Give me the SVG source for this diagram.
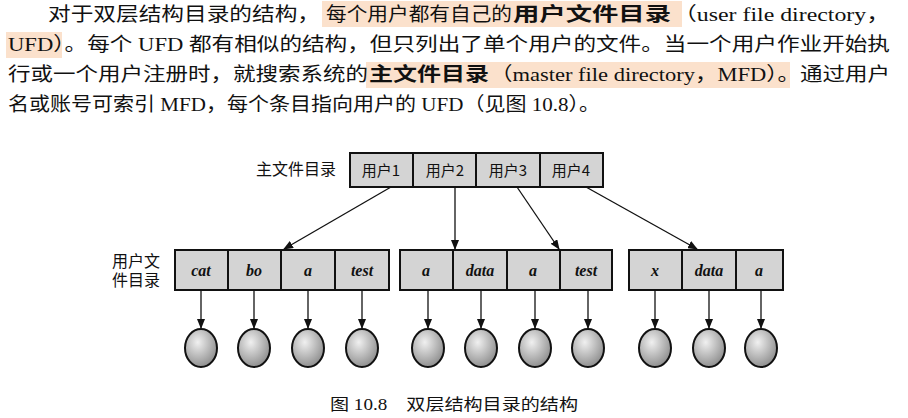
<svg xmlns="http://www.w3.org/2000/svg" width="908" height="418" viewBox="0 0 908 418">
<style>
.t{font-family:"Liberation Serif","Noto Sans CJK SC",serif;font-size:19px;fill:#111}
.b{font-weight:bold}
.hl{fill:#fbe1cc}
.cell{fill:#d4d4d4;stroke:#111;stroke-width:2}
.lab{font-family:"Liberation Serif","Noto Sans CJK SC",serif;font-size:16px;fill:#111}
.it{font-family:"Liberation Serif",serif;font-size:16px;font-style:italic;font-weight:bold;fill:#111;text-anchor:middle}
.cn{font-family:"Noto Sans CJK SC",sans-serif;font-size:15px;fill:#111;text-anchor:middle}
.c{stroke:#111;stroke-width:1.3;fill:none;marker-end:url(#ah)}
.ball{fill:url(#rg);stroke:#111;stroke-width:2}
</style>
<defs>
<marker id="ah" markerWidth="10" markerHeight="8" refX="9" refY="4" orient="auto" markerUnits="userSpaceOnUse"><path d="M0,0 L10,4 L0,8 Z" fill="#111"/></marker>
<radialGradient id="rg" cx="0.4" cy="0.35" r="0.7"><stop offset="0" stop-color="#f0f0f0"/><stop offset="1" stop-color="#8a8a8a"/></radialGradient>
</defs>
<rect width="908" height="418" fill="#fff"/>
<g id="para">
<rect class="hl" x="322" y="1" width="360" height="26"/>
<rect class="hl" x="6" y="32" width="56" height="26"/>
<rect class="hl" x="366" y="62" width="424" height="26"/>
<text class="t" x="48" y="21" textLength="272" lengthAdjust="spacingAndGlyphs">对于双层结构目录的结构，</text>
<text class="t" x="326" y="21" textLength="186" lengthAdjust="spacingAndGlyphs">每个用户都有自己的</text>
<text class="t b" x="513" y="21" textLength="158" lengthAdjust="spacingAndGlyphs">用户文件目录</text>
<text class="t" x="673" y="21" textLength="217" lengthAdjust="spacingAndGlyphs">（user file directory，</text>
<text class="t" x="8" y="51" textLength="882" lengthAdjust="spacingAndGlyphs">UFD）。每个 UFD 都有相似的结构，但只列出了单个用户的文件。当一个用户作业开始执</text>
<text class="t" x="8" y="81" textLength="360" lengthAdjust="spacingAndGlyphs">行或一个用户注册时，就搜索系统的</text>
<text class="t b" x="369" y="81" textLength="120" lengthAdjust="spacingAndGlyphs">主文件目录</text>
<text class="t" x="490" y="81" textLength="400" lengthAdjust="spacingAndGlyphs">（master file directory，MFD）。通过用户</text>
<text class="t" x="8" y="111" textLength="592" lengthAdjust="spacingAndGlyphs">名或账号可索引 MFD，每个条目指向用户的 UFD（见图 10.8）。</text>
</g>
<g id="mfd">
<text class="lab" x="256" y="175">主文件目录</text>
<rect class="cell" x="350" y="153" width="63" height="34"/>
<rect class="cell" x="413" y="153" width="63" height="34"/>
<rect class="cell" x="476" y="153" width="64" height="34"/>
<rect class="cell" x="540" y="153" width="63" height="34"/>
<text class="cn" x="381" y="176">用户1</text>
<text class="cn" x="445" y="176">用户2</text>
<text class="cn" x="508" y="176">用户3</text>
<text class="cn" x="571" y="176">用户4</text>
</g>
<g id="ufdlabel">
<text class="lab" x="112" y="267">用户文</text>
<text class="lab" x="112" y="286">件目录</text>
</g>
<g id="ufd1">
<rect class="cell" x="175" y="250" width="53" height="40"/><rect class="cell" x="228" y="250" width="53" height="40"/><rect class="cell" x="281" y="250" width="54" height="40"/><rect class="cell" x="335" y="250" width="54" height="40"/>
<text class="it" x="201" y="276">cat</text><text class="it" x="254" y="276">bo</text><text class="it" x="308" y="276">a</text><text class="it" x="362" y="276">test</text>
</g>
<g id="ufd2">
<rect class="cell" x="400" y="250" width="53" height="40"/><rect class="cell" x="453" y="250" width="54" height="40"/><rect class="cell" x="507" y="250" width="53" height="40"/><rect class="cell" x="560" y="250" width="52" height="40"/>
<text class="it" x="426" y="276">a</text><text class="it" x="480" y="276">data</text><text class="it" x="533" y="276">a</text><text class="it" x="586" y="276">test</text>
</g>
<g id="ufd3">
<rect class="cell" x="629" y="250" width="53" height="40"/><rect class="cell" x="682" y="250" width="54" height="40"/><rect class="cell" x="736" y="250" width="47" height="40"/>
<text class="it" x="655" y="276">x</text><text class="it" x="709" y="276">data</text><text class="it" x="759" y="276">a</text>
</g>
<g id="files">
<ellipse class="ball" cx="201" cy="348" rx="16" ry="19"/><ellipse class="ball" cx="254" cy="348" rx="16" ry="19"/><ellipse class="ball" cx="308" cy="348" rx="16" ry="19"/><ellipse class="ball" cx="362" cy="348" rx="16" ry="19"/>
<ellipse class="ball" cx="428" cy="348" rx="16" ry="19"/><ellipse class="ball" cx="481" cy="348" rx="16" ry="19"/><ellipse class="ball" cx="535" cy="348" rx="16" ry="19"/><ellipse class="ball" cx="588" cy="348" rx="16" ry="19"/>
<ellipse class="ball" cx="655" cy="348" rx="16" ry="19"/><ellipse class="ball" cx="709" cy="348" rx="16" ry="19"/><ellipse class="ball" cx="761" cy="348" rx="16" ry="19"/>
</g>
<g id="connectors">
<line class="c" x1="391" y1="187" x2="284" y2="249"/>
<line class="c" x1="455" y1="187" x2="455" y2="249"/>
<line class="c" x1="517" y1="187" x2="559" y2="249"/>
<line class="c" x1="586" y1="187" x2="697" y2="249"/>
<line class="c" x1="201" y1="290" x2="201" y2="328"/><line class="c" x1="254" y1="290" x2="254" y2="328"/><line class="c" x1="308" y1="290" x2="308" y2="328"/><line class="c" x1="362" y1="290" x2="362" y2="328"/>
<line class="c" x1="428" y1="290" x2="428" y2="328"/><line class="c" x1="481" y1="290" x2="481" y2="328"/><line class="c" x1="535" y1="290" x2="535" y2="328"/><line class="c" x1="588" y1="290" x2="588" y2="328"/>
<line class="c" x1="655" y1="290" x2="655" y2="328"/><line class="c" x1="709" y1="290" x2="709" y2="328"/><line class="c" x1="761" y1="290" x2="761" y2="328"/>
</g>
<text class="lab" x="330" y="410" font-size="16" textLength="248" lengthAdjust="spacingAndGlyphs">图 10.8　双层结构目录的结构</text>
</svg>
